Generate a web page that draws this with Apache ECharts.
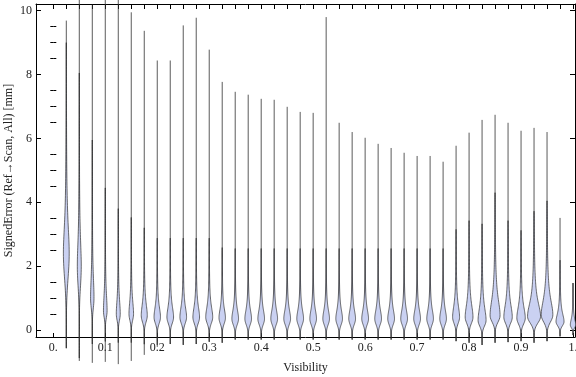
<!DOCTYPE html>
<html><head><meta charset="utf-8">
<script src="https://cdn.jsdelivr.net/npm/echarts@6/dist/echarts.min.js"></script>
<style>html,body{margin:0;padding:0;background:#fff}#c{width:576px;height:377px}</style>
</head><body><div id="c"></div>
<script>
// Violin positions (Visibility)
const visibility = [0.025,0.05,0.075,0.1,0.125,0.15,0.175,0.2,0.225,0.25,0.275,0.3,0.325,0.35,0.375,0.4,0.425,0.45,0.475,0.5,0.525,0.55,0.575,0.6,0.625,0.65,0.675,0.7,0.725,0.75,0.775,0.8,0.825,0.85,0.875,0.9,0.925,0.95,0.975,1.0];
// Largest signed error in each bin [mm]
const maxError = [9.69,12,10.19,12,12,9.95,9.37,8.44,8.44,9.54,9.78,8.78,7.77,7.46,7.37,7.24,7.21,6.99,6.83,6.80,9.80,6.49,6.20,6.02,5.83,5.70,5.55,5.45,5.45,5.27,5.77,6.18,6.58,6.74,6.49,6.24,6.33,6.20,3.51,1.47];
// Smallest signed error in each bin [mm]
const minError = [-0.57,-0.97,-1.03,-1.0,-1.07,-0.97,-0.78,-0.53,-0.44,-0.47,-0.44,-0.37,-0.4,-0.3,-0.3,-0.3,-0.3,-0.3,-0.3,-0.3,-0.3,-0.3,-0.3,-0.3,-0.3,-0.3,-0.3,-0.3,-0.3,-0.3,-0.35,-0.4,-0.47,-0.4,-0.38,-0.35,-0.4,-0.35,-0.2,-0.16];
// Most frequent error (widest point of the violin) [mm]
const modeError = [2.4,2.0,1.0,0.6,0.5,0.5,0.45,0.4,0.4,0.4,0.4,0.4,0.38,0.35,0.35,0.35,0.35,0.35,0.35,0.35,0.35,0.35,0.35,0.35,0.35,0.35,0.35,0.35,0.35,0.35,0.4,0.4,0.3,0.45,0.4,0.37,0.42,0.47,0.26,0.16];
// Peak density, expressed as violin half-width in Visibility units
const peakDensity = [0.0056,0.0038,0.0033,0.0035,0.0038,0.0044,0.0058,0.0062,0.0064,0.0064,0.0064,0.0067,0.0062,0.0064,0.0064,0.0064,0.0065,0.0065,0.0065,0.0064,0.0064,0.0064,0.0065,0.0065,0.0065,0.0065,0.0065,0.0065,0.0064,0.0064,0.0067,0.0075,0.0077,0.0096,0.0081,0.0081,0.0125,0.0112,0.0077,0.0052];
// Spread of the density above / below the mode [mm]
const upperSpread = [1.2,1.1,0.9,0.7,0.6,0.55,0.5,0.45,0.45,0.45,0.45,0.45,0.4,0.4,0.4,0.4,0.4,0.4,0.4,0.4,0.4,0.4,0.4,0.4,0.4,0.4,0.4,0.4,0.4,0.4,0.5,0.55,0.55,0.7,0.55,0.5,0.6,0.65,0.35,0.25];
const lowerSpread = [1.1,0.9,0.45,0.3,0.28,0.28,0.28,0.27,0.27,0.27,0.27,0.27,0.26,0.26,0.26,0.26,0.26,0.26,0.26,0.26,0.26,0.26,0.26,0.26,0.26,0.26,0.26,0.26,0.26,0.26,0.27,0.27,0.25,0.28,0.27,0.26,0.28,0.3,0.18,0.13];

const xTickValues = [0,0.1,0.2,0.3,0.4,0.5,0.6,0.7,0.8,0.9,1.0];
const xTickLabels = ['0.','0.1','0.2','0.3','0.4','0.5','0.6','0.7','0.8','0.9','1.'];
const yTickValues = [0,2,4,6,8,10];
const yTickLabels = ['0','2','4','6','8','10'];
const yMinorTicks = [0.5,1,1.5,2.5,3,3.5,4.5,5,5.5,6.5,7,7.5,8.5,9,9.5];
const topTicks = [0].concat(visibility);

const data = visibility.map((v,i)=>[v,minError[i],maxError[i],modeError[i],peakDensity[i],upperSpread[i],lowerSpread[i]]);

function renderViolin(params, api){
  const x = api.value(0), lo = api.value(1), hi = api.value(2), m = api.value(3);
  const W = api.value(4), su = api.value(5), sl = api.value(6);
  const y0 = Math.max(lo, m - 3.2*sl), y1 = Math.min(hi, m + 5.5*su);
  const n = 90, right = [], left = [];
  for (let k=0;k<=n;k++){
    const y = y0 + (y1-y0)*k/n;
    let w;
    if (y < m){ const d=(m-y)/sl; w = W*Math.exp(-d*d); }
    else { const d=(y-m)/su; w = W/(1+d*d); }
    const edge = Math.sin(Math.PI*k/n);
    w *= Math.min(1, edge*6);
    right.push(api.coord([x + w, y]));
    left.unshift(api.coord([x - w, y]));
  }
  const pts = right.concat(left);
  const pLo = api.coord([x, lo]), pHi = api.coord([x, hi]);
  return {type:'group', children:[
    {type:'line', shape:{x1:pLo[0],y1:pLo[1],x2:pHi[0],y2:pHi[1]}, style:{stroke:'rgba(50,50,50,0.8)', lineWidth:1}},
    {type:'polygon', shape:{points:pts}, style:{fill:'#cad1f2', stroke:'rgba(40,40,40,0.75)', lineWidth:0.9}}
  ]};
}

const font = {fontFamily:'Liberation Serif', fontSize:12, color:'#222'};
const lineBlack = {show:true, onZero:false, lineStyle:{color:'#000', width:1}};
const XMIN = -0.0333, XMAX = 1.0038, YMIN = -0.22, YMAX = 10.21;

const chart = echarts.init(document.getElementById('c'), null, {renderer:'canvas'});
chart.setOption({
  animation:false,
  grid:{left:36, right:1, top:4, bottom:40, containLabel:false, outerBoundsMode:'none'},
  xAxis:[
    {type:'value', position:'bottom', min:XMIN, max:XMAX, axisLine:lineBlack,
     axisTick:{show:true, inside:true, length:4, customValues:xTickValues, lineStyle:{color:'#000'}},
     axisLabel:{show:true, customValues:xTickValues, margin:5, ...font, formatter:v=>{const i=xTickValues.findIndex(t=>Math.abs(t-v)<1e-6); return i>=0?xTickLabels[i]:'';}},
     splitLine:{show:false}, name:'Visibility', nameLocation:'middle', nameGap:25, nameMoveOverlap:false, nameTextStyle:font},
    {type:'value', position:'top', min:XMIN, max:XMAX, axisLine:lineBlack,
     axisTick:{show:true, inside:true, length:5, customValues:topTicks, lineStyle:{color:'#000'}},
     axisLabel:{show:false}, splitLine:{show:false}}
  ],
  yAxis:[
    {type:'value', position:'left', min:YMIN, max:YMAX, axisLine:lineBlack,
     axisTick:{show:true, inside:true, length:5, customValues:yTickValues, lineStyle:{color:'#000'}},
     axisLabel:{show:true, customValues:yTickValues, margin:4, ...font, formatter:v=>{const i=yTickValues.indexOf(v); return i>=0?yTickLabels[i]:'';}},
     splitLine:{show:false}, name:'SignedError (Ref\u2192Scan, All) [mm]', nameLocation:'middle', nameGap:21, nameRotate:90, nameMoveOverlap:false, nameTextStyle:font},
    {type:'value', position:'left', min:YMIN, max:YMAX, axisLine:{show:false},
     axisTick:{show:true, inside:true, length:3, customValues:yMinorTicks, lineStyle:{color:'#000'}},
     axisLabel:{show:false}, splitLine:{show:false}},
    {type:'value', position:'right', min:YMIN, max:YMAX, axisLine:lineBlack,
     axisTick:{show:true, inside:true, length:5, customValues:yTickValues, lineStyle:{color:'#000'}},
     axisLabel:{show:false}, splitLine:{show:false}},
    {type:'value', position:'right', min:YMIN, max:YMAX, axisLine:{show:false},
     axisTick:{show:true, inside:true, length:3, customValues:yMinorTicks, lineStyle:{color:'#000'}},
     axisLabel:{show:false}, splitLine:{show:false}}
  ],
  series:[{
    type:'custom', renderItem:renderViolin, clip:false, xAxisIndex:0, yAxisIndex:0,
    encode:{x:0, y:[1,2]}, data:data, z:1
  }]
});
</script></body></html>
